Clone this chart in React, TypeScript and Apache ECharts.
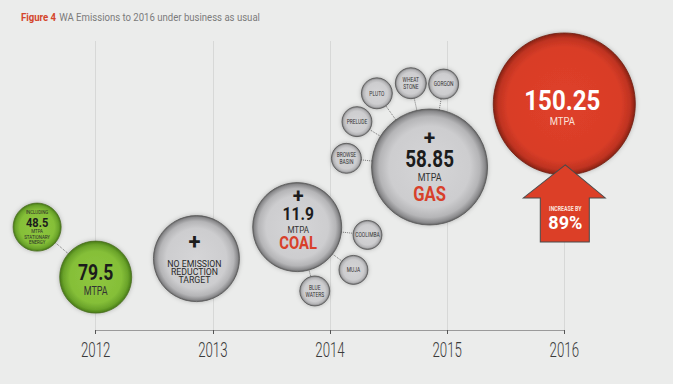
import React, { useEffect, useRef } from "react";
import * as echarts from "echarts";

// ---------- data ----------
const titleLead = "Figure 4";
const titleText = "WA Emissions to 2016 under business as usual";
const years = [2012, 2013, 2014, 2015, 2016];
const yearLabels = ["2012", "2013", "2014", "2015", "2016"];

const bubbleKeys = ["stationary", "y2012", "y2013", "coal", "coolimba", "muja", "bluewaters", "gas", "browse", "prelude", "pluto", "wheatstone", "gorgon", "y2016"];
const bubbleX = [2011.5, 2012.0, 2012.86, 2013.72, 2014.32, 2014.2, 2013.87, 2014.85, 2014.14, 2014.23, 2014.4, 2014.69, 2014.97, 2016.0];
const bubbleY = [35.6, 18.3, 24.7, 35.6, 32.9, 20.8, 13.5, 56.4, 59.4, 72.1, 81.9, 85.4, 85.1, 78.2];
const bubbleDiam = [48, 72, 86, 89, 29, 29, 30, 116, 30, 30, 31, 31, 30, 142];
const bubbleKind = ["green", "green", "gray", "gray", "gray", "gray", "gray", "gray", "gray", "gray", "gray", "gray", "gray", "red"];
const satelliteNames = ["", "", "", "", "COOLIMBA", "MUJA", "BLUE\nWATERS", "", "BROWSE\nBASIN", "PRELUDE", "PLUTO", "WHEAT\nSTONE", "GORGON", ""];

const stationaryValue = "48.5";
const value2012 = "79.5";
const coalValue = "11.9";
const gasValue = "58.85";
const value2016 = "150.25";
const increasePct = "89%";

const links: [number, number][] = [[0, 1], [3, 4], [3, 5], [3, 6], [7, 8], [7, 9], [7, 10], [7, 11], [7, 12]];

const arrowX = 2016.0;
const arrowY = 43.8;

// ---------- styles ----------
const F = "Roboto, 'Liberation Sans', sans-serif";
const RED = "#d8402a";
const DARK = "#1c1c1c";

const fills: Record<string, any> = {
  gray: {
    type: "radial", x: 0.5, y: 0.5, r: 0.5,
    colorStops: [
      { offset: 0, color: "#d5d5d7" },
      { offset: 0.7, color: "#cdcdcf" },
      { offset: 0.87, color: "#b5b5b7" },
      { offset: 0.96, color: "#8a8a8c" },
      { offset: 1, color: "#626263" },
    ],
  },
  green: {
    type: "radial", x: 0.5, y: 0.5, r: 0.5,
    colorStops: [
      { offset: 0, color: "#8fc63f" },
      { offset: 0.72, color: "#85bf38" },
      { offset: 0.9, color: "#6aa32a" },
      { offset: 1, color: "#477a16" },
    ],
  },
  red: {
    type: "radial", x: 0.5, y: 0.5, r: 0.5,
    colorStops: [
      { offset: 0, color: "#df402a" },
      { offset: 0.8, color: "#d93d27" },
      { offset: 0.93, color: "#bf3321" },
      { offset: 1, color: "#872213" },
    ],
  },
};

type T = { text: string; dx: number; dy: number; fs: number; sx: number; w?: string; c?: string; lh?: number };

function textsFor(i: number): T[] {
  const key = bubbleKeys[i];
  switch (key) {
    case "stationary":
      return [
        { text: "INCLUDING", dx: 0, dy: -15.6, fs: 5.5, sx: 0.8, c: "#2a2a2a" },
        { text: stationaryValue, dx: 0, dy: -4.5, fs: 13, sx: 0.85, w: "bold", c: DARK },
        { text: "MTPA", dx: 0, dy: 3.6, fs: 5.5, sx: 0.8, c: "#2a2a2a" },
        { text: "STATIONARY", dx: 0, dy: 9.4, fs: 5.5, sx: 0.8, c: "#2a2a2a" },
        { text: "ENERGY", dx: 0, dy: 14.4, fs: 5.5, sx: 0.8, c: "#2a2a2a" },
      ];
    case "y2012":
      return [
        { text: value2012, dx: 0, dy: -4, fs: 22, sx: 0.8, w: "bold", c: DARK },
        { text: "MTPA", dx: 0, dy: 13.7, fs: 12, sx: 0.75, c: "#333" },
      ];
    case "y2013":
      return [
        { text: "+", dx: -2, dy: -17.5, fs: 22, sx: 1, w: "bold", c: DARK },
        { text: "NO EMISSION", dx: -2, dy: 4.8, fs: 9.5, sx: 0.92, c: "#2a2a2a" },
        { text: "REDUCTION", dx: -2, dy: 13.2, fs: 9.5, sx: 0.92, c: "#2a2a2a" },
        { text: "TARGET", dx: -2, dy: 21.5, fs: 9.5, sx: 0.92, c: "#2a2a2a" },
      ];
    case "coal":
      return [
        { text: "+", dx: 1, dy: -31, fs: 20, sx: 1, w: "bold", c: DARK },
        { text: coalValue, dx: 1, dy: -13.7, fs: 19, sx: 0.82, w: "bold", c: DARK },
        { text: "MTPA", dx: 1, dy: 2.3, fs: 9.5, sx: 0.85, c: "#333" },
        { text: "COAL", dx: 1, dy: 14.7, fs: 19, sx: 0.78, w: "bold", c: RED },
      ];
    case "gas":
      return [
        { text: "+", dx: 0, dy: -28.7, fs: 21, sx: 1, w: "bold", c: DARK },
        { text: gasValue, dx: 0, dy: -8.7, fs: 23, sx: 0.82, w: "bold", c: DARK },
        { text: "MTPA", dx: 0, dy: 10.3, fs: 10.5, sx: 0.85, c: "#333" },
        { text: "GAS", dx: 0, dy: 27.3, fs: 19.5, sx: 0.85, w: "bold", c: RED },
      ];
    case "y2016":
      return [
        { text: value2016, dx: -2, dy: -4, fs: 28, sx: 0.86, w: "bold", c: "#ffffff" },
        { text: "MTPA", dx: -2, dy: 17.7, fs: 10.5, sx: 0.9, c: "#fbe0da" },
      ];
    default:
      return [{ text: satelliteNames[i], dx: 0, dy: 0, fs: 6.3, sx: 0.78, c: "#333", lh: 7 }];
  }
}

const arrowTexts: T[] = [
  { text: "INCREASE BY", dx: 1, dy: 5.8, fs: 7, sx: 0.75, w: "bold", c: "#fbe3de" },
  { text: increasePct, dx: 1, dy: 19.8, fs: 19, sx: 0.95, w: "bold", c: "#ffffff" },
];

function textEls(list: T[], cx: number, cy: number) {
  return list.map((t) => ({
    type: "text",
    x: cx + t.dx,
    y: cy + t.dy,
    scaleX: t.sx,
    silent: true,
    style: {
      text: t.text,
      fontSize: t.fs,
      fontWeight: t.w || "normal",
      fontFamily: F,
      fill: t.c || DARK,
      align: "center",
      verticalAlign: "middle",
      lineHeight: t.lh,
    },
  }));
}

export default function App() {
  const ref = useRef<HTMLDivElement>(null);
  useEffect(() => {
    document.body.style.margin = "0";
    if (!ref.current) return;
    const chart = echarts.init(ref.current, undefined, { renderer: "svg" });

    const bubbleData = bubbleX.map((x, i) => ({
      value: [x, bubbleY[i]],
      symbolSize: bubbleDiam[i],
      itemStyle: {
        color: fills[bubbleKind[i]],
        opacity: 1,
        borderColor: bubbleKind[i] === "red" ? "#6e1d12" : bubbleKind[i] === "green" ? "#4c6e25" : "#555555",
        borderWidth: 0.8,
        shadowBlur: 4,
        shadowColor: "rgba(0,0,0,0.25)",
      },
    }));

    const linkData = links.map(([a, b]) => ({
      coords: [[bubbleX[a], bubbleY[a]], [bubbleX[b], bubbleY[b]]],
    }));

    chart.setOption({
      animation: false,
      backgroundColor: "#ebeceb",
      graphic: [
        {
          type: "text",
          x: 21,
          y: 17,
          scaleX: 0.94,
          silent: true,
          style: {
            text: `{a|${titleLead}} {b|${titleText}}`,
            verticalAlign: "middle",
            rich: {
              a: { fontSize: 10.2, fontWeight: "bold", fill: "#d4452b", fontFamily: F },
              b: { fontSize: 10.2, fill: "#7b7b7b", fontFamily: F },
            },
          },
        },
      ],
      grid: { left: 95.7, right: 108.7, top: 41, bottom: 54 },
      xAxis: {
        type: "value",
        min: years[0],
        max: years[years.length - 1],
        interval: 1,
        axisLine: { show: true, lineStyle: { color: "#9a9a9a", width: 1 } },
        axisTick: { show: true, length: 4, lineStyle: { color: "#555" } },
        axisLabel: { show: false },
        splitLine: { show: true, lineStyle: { color: "#d7d8d7", width: 1 } },
      },
      yAxis: { type: "value", min: 0, max: 100, show: false },
      series: [
        {
          type: "lines",
          coordinateSystem: "cartesian2d",
          clip: false,
          silent: true,
          z: 1,
          lineStyle: { color: "#777", type: "dotted", width: 1, opacity: 1 },
          data: linkData,
        },
        {
          type: "scatter",
          symbol: "circle",
          clip: false,
          silent: true,
          z: 2,
          data: bubbleData,
        },
        {
          type: "scatter",
          clip: false,
          silent: true,
          z: 3,
          symbol: "path://M42,0 L82,33 L66,33 L66,77 L17,77 L17,33 L0,33 Z",
          symbolSize: [82, 77],
          itemStyle: { color: "#dc3f27", opacity: 1, borderColor: "#4a4a4a", borderWidth: 1 },
          data: [[arrowX, arrowY]],
        },
        {
          type: "custom",
          coordinateSystem: "cartesian2d",
          clip: false,
          silent: true,
          z: 4,
          data: bubbleX.map((x, i) => [x, bubbleY[i], i]),
          renderItem: (params: any, api: any) => {
            const p = api.coord([api.value(0), api.value(1)]);
            return { type: "group", children: textEls(textsFor(api.value(2)), p[0], p[1]) };
          },
        },
        {
          type: "custom",
          coordinateSystem: "cartesian2d",
          clip: false,
          silent: true,
          z: 5,
          data: [[arrowX, arrowY]],
          renderItem: (params: any, api: any) => {
            const p = api.coord([api.value(0), api.value(1)]);
            return { type: "group", children: textEls(arrowTexts, p[0], p[1]) };
          },
        },
        {
          type: "custom",
          coordinateSystem: "cartesian2d",
          clip: false,
          silent: true,
          z: 5,
          data: years.map((y, i) => [y, 0, i]),
          renderItem: (params: any, api: any) => {
            const p = api.coord([api.value(0), api.value(1)]);
            return {
              type: "text",
              x: p[0],
              y: p[1] + 21,
              scaleX: 0.68,
              silent: true,
              style: {
                text: yearLabels[api.value(2)],
                fontSize: 19.5,
                fontWeight: 300,
                fontFamily: F,
                fill: "#3a3a3a",
                align: "center",
                verticalAlign: "middle",
              },
            };
          },
        },
      ],
    });
    return () => chart.dispose();
  }, []);
  return <div ref={ref} style={{ width: 673, height: 384 }} />;
}
